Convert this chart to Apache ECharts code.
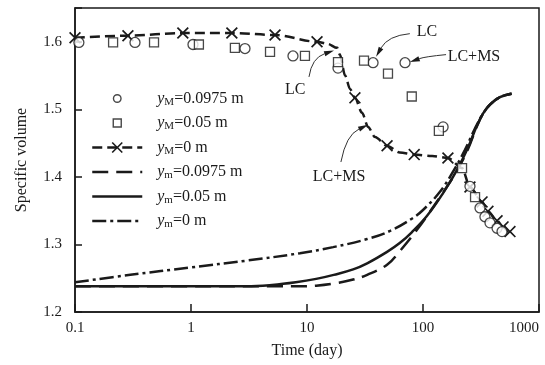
<!DOCTYPE html>
<html><head><meta charset="utf-8">
<script src="https://cdn.jsdelivr.net/npm/echarts@6/dist/echarts.min.js"></script>
<style>html,body{margin:0;padding:0;background:#fff}#c{width:545px;height:365px}</style>
</head><body><div id="c"></div>
<script>
// ---------- data ----------
const xTicks = [0.1, 1, 10, 100, 1000];
const yTicks = [1.2, 1.3, 1.4, 1.5, 1.6];
const seriesNames = ['yM=0.0975 m', 'yM=0.05 m', 'yM=0 m', 'ym=0.0975 m', 'ym=0.05 m', 'ym=0 m'];

// y_M = 0.0975 m (circles)
const circT = [0.108, 0.329, 1.04, 2.92, 7.57, 18.5, 37.1, 70, 149, 254, 310, 342, 378, 435, 480];
const circV = [1.599, 1.599, 1.596, 1.590, 1.579, 1.561, 1.569, 1.569, 1.474, 1.386, 1.354, 1.341, 1.332, 1.324, 1.319];
// y_M = 0.05 m (squares)
const sqT = [0.213, 0.48, 1.17, 2.39, 4.8, 9.6, 18.5, 31, 49.9, 80, 137, 217, 281];
const sqV = [1.599, 1.599, 1.596, 1.591, 1.585, 1.579, 1.570, 1.572, 1.553, 1.519, 1.468, 1.413, 1.370];
// y_M = 0 m (dashed curve with crosses)
const dashT = [0.1, 0.286, 0.85, 2.25, 5.3, 12.2, 15, 18.2, 19.2, 21.3, 23.5, 25.9, 29.8, 33.6, 38.6, 49, 63, 84, 120, 164, 217, 254, 323, 363, 435, 490, 562];
const dashV = [1.606, 1.609, 1.613, 1.613, 1.610, 1.600, 1.597, 1.591, 1.581, 1.550, 1.530, 1.517, 1.495, 1.474, 1.459, 1.446, 1.436, 1.433, 1.431, 1.428, 1.413, 1.385, 1.363, 1.349, 1.335, 1.326, 1.319];
const crossT = [0.1, 0.286, 0.85, 2.25, 5.3, 12.2, 25.9, 49, 84, 164, 254, 323, 363, 435, 490, 562];
// y_m = 0.0975 m (long dashes)
const longT = [0.1, 1, 5, 8, 12, 17, 25, 33, 49, 63, 89, 122, 160, 196, 244, 290, 330, 378, 460, 580];
const longV = [1.238, 1.238, 1.238, 1.238, 1.239, 1.242, 1.248, 1.255, 1.270, 1.290, 1.322, 1.355, 1.385, 1.409, 1.441, 1.474, 1.494, 1.507, 1.518, 1.523];
// y_m = 0.05 m (solid)
const solidT = [0.1, 1, 3, 5, 8, 12, 17, 25, 33, 49, 63, 80, 108, 149, 196, 244, 290, 330, 378, 460, 580];
const solidV = [1.238, 1.238, 1.238, 1.240, 1.244, 1.249, 1.255, 1.263, 1.272, 1.289, 1.302, 1.318, 1.342, 1.376, 1.410, 1.443, 1.475, 1.494, 1.507, 1.518, 1.523];
// y_m = 0 m (dash-dot)
const dotT = [0.1, 0.3, 1, 3, 8.7, 16.8, 33, 52, 80, 100, 140, 182, 230, 281, 330, 378, 460, 580];
const dotV = [1.244, 1.255, 1.266, 1.276, 1.287, 1.296, 1.308, 1.320, 1.338, 1.351, 1.378, 1.408, 1.440, 1.472, 1.494, 1.507, 1.518, 1.523];

// annotations (data coordinates)
const annLabels = ['LC', 'LC+MS', 'LC', 'LC+MS'];
const annTextAt = [[108, 1.615], [275, 1.578], [7.9, 1.529], [18.9, 1.400]];
const annFrom   = [[77, 1.612], [158, 1.581], [10.4, 1.548], [19.6, 1.422]];
const annCtrl   = [[49.9, 1.609], [104, 1.578], [11.0, 1.576], [21.7, 1.462]];
const annTip    = [[39.4, 1.578], [77, 1.570], [17.1, 1.587], [33.6, 1.477]];

// ---------- chart ----------
const zip = (a, b) => a.map((t, i) => [t, b[i]]);
const FONT = 'Liberation Serif';
const INK = '#1a1a1a';
const xPath = 'path://M0,1L1,0L5,4L9,0L10,1L6,5L10,9L9,10L5,6L1,10L0,9L4,5Z';
const legCircle = 'path://M0,0M20,20M10,4.6A5.4,5.4,0,1,1,9.99,4.6Z';
const legSquare = 'path://M0,0M20,20M4.3,4.3L15.7,4.3L15.7,15.7L4.3,15.7Z';
const noMark = {color: 'rgba(0,0,0,0)', borderWidth: 0, opacity: 0};

const chart = echarts.init(document.getElementById('c'), null, {renderer: 'canvas'});

const dashData = dashT.map((t, i) => ({
  value: [t, dashV[i]],
  symbol: crossT.includes(t) ? xPath : 'none'
}));

function legendFmt(name) {
  const sub = name.charAt(1);
  const rest = name.slice(2);
  return '{i|y}{s|' + sub + '}{t|' + rest + '}';
}

const option = {
  animation: false,
  backgroundColor: '#fff',
  grid: {left: 75, right: 6, top: 8, bottom: 53, show: true, borderColor: INK, borderWidth: 1.5, backgroundColor: 'transparent'},
  xAxis: {
    type: 'log', logBase: 10, min: 0.1, max: 1000,
    name: 'Time (day)', nameLocation: 'middle', nameGap: 31,
    nameTextStyle: {fontFamily: FONT, fontSize: 16, color: INK},
    axisLine: {show: true, lineStyle: {color: INK, width: 1.5}},
    axisTick: {show: true, inside: true, length: 8, lineStyle: {color: INK, width: 1.5}},
    minorTick: {show: false}, splitLine: {show: false}, minorSplitLine: {show: false},
    axisLabel: {
      fontFamily: FONT, fontSize: 15, color: INK, margin: 9, alignMaxLabel: 'right',
      formatter: v => { const r = +(+v).toPrecision(6); return xTicks.includes(r) ? String(r) : ''; }
    }
  },
  yAxis: {
    type: 'value', min: 1.2, max: 1.65, interval: 0.1,
    name: 'Specific volume', nameLocation: 'middle', nameGap: 45, nameRotate: 90,
    nameTextStyle: {fontFamily: FONT, fontSize: 16, color: INK},
    axisLine: {show: true, lineStyle: {color: INK, width: 1.5}},
    axisTick: {show: true, inside: true, length: 7, lineStyle: {color: INK, width: 1.5}},
    splitLine: {show: false},
    axisLabel: {
      fontFamily: FONT, fontSize: 15, color: INK, margin: 13,
      formatter: v => { const r = Math.round(v * 100) / 100; return yTicks.includes(r) ? r.toFixed(1) : ''; }
    }
  },
  legend: {
    orient: 'vertical', left: 86, top: 85.5, itemWidth: 50, itemHeight: 14, itemGap: 7.5,
    selectedMode: false,
    formatter: legendFmt,
    lineStyle: {width: 2.5},
    textStyle: {
      fontFamily: FONT, fontSize: 16, color: INK, padding: [0, 0, 0, 10],
      rich: {
        i: {fontFamily: FONT, fontStyle: 'italic', fontSize: 16, color: INK, lineHeight: 18},
        s: {fontFamily: FONT, fontSize: 11, color: INK, padding: [7, 0, 0, 0]},
        t: {fontFamily: FONT, fontSize: 16, color: INK, lineHeight: 18}
      }
    },
    data: [
      {name: seriesNames[0], icon: legCircle, itemStyle: {color: '#fff', borderColor: INK, borderWidth: 1.4}},
      {name: seriesNames[1], icon: legSquare, itemStyle: {color: '#fff', borderColor: INK, borderWidth: 1.4}},
      {name: seriesNames[2], itemStyle: {color: INK, borderWidth: 0}},
      {name: seriesNames[3], itemStyle: noMark},
      {name: seriesNames[4], itemStyle: noMark},
      {name: seriesNames[5], itemStyle: noMark}
    ]
  },
  series: [
    {
      name: seriesNames[0], type: 'scatter', data: zip(circT, circV), z: 6,
      symbol: 'circle', symbolSize: 10,
      itemStyle: {color: '#fff', borderColor: INK, borderWidth: 1.3}
    },
    {
      name: seriesNames[1], type: 'scatter', data: zip(sqT, sqV), z: 6,
      symbol: 'rect', symbolSize: 9,
      itemStyle: {color: '#fff', borderColor: INK, borderWidth: 1.3}
    },
    {
      name: seriesNames[2], type: 'line', data: dashData, z: 5,
      symbol: xPath, symbolSize: 12, showSymbol: true,
      smooth: 0.3, smoothMonotone: 'x',
      itemStyle: {color: INK, borderWidth: 0},
      lineStyle: {color: INK, width: 2.5, type: [10, 5]}
    },
    {
      name: seriesNames[3], type: 'line', data: zip(longT, longV), z: 3,
      symbol: 'none', smooth: 0.4,
      itemStyle: {color: INK},
      lineStyle: {color: INK, width: 2.5, type: [16, 8]}
    },
    {
      name: seriesNames[4], type: 'line', data: zip(solidT, solidV), z: 4,
      symbol: 'none', smooth: 0.4,
      itemStyle: {color: INK},
      lineStyle: {color: INK, width: 2.5, type: 'solid'}
    },
    {
      name: seriesNames[5], type: 'line', data: zip(dotT, dotV), z: 3,
      symbol: 'none', smooth: 0.4,
      itemStyle: {color: INK},
      lineStyle: {color: INK, width: 2.5, type: [14, 4, 3, 4]}
    }
  ]
};
chart.setOption(option);

// annotations: curved arrows + labels, positioned from data coordinates
const P = p => chart.convertToPixel({gridIndex: 0}, p);
const graphics = [];
annLabels.forEach((lab, k) => {
  const tp = P(annTextAt[k]);
  const a = P(annFrom[k]);
  const c = P(annCtrl[k]);
  const tip = P(annTip[k]);
  let dx = tip[0] - c[0], dy = tip[1] - c[1];
  const L = Math.hypot(dx, dy) || 1; dx /= L; dy /= L;
  const hl = 10, hw = 2.6;
  const base = [tip[0] - dx * hl, tip[1] - dy * hl];
  graphics.push({
    type: 'bezierCurve', silent: true, z: 10,
    shape: {x1: a[0], y1: a[1], cpx1: c[0], cpy1: c[1], x2: base[0], y2: base[1]},
    style: {stroke: '#333', lineWidth: 1, fill: null}
  });
  graphics.push({
    type: 'polygon', silent: true, z: 10,
    shape: {points: [tip, [base[0] - dy * hw, base[1] + dx * hw], [base[0] + dy * hw, base[1] - dx * hw]]},
    style: {fill: INK}
  });
  graphics.push({
    type: 'text', silent: true, z: 10,
    style: {text: lab, x: tp[0], y: tp[1], align: 'center', verticalAlign: 'middle',
            font: '16px "Liberation Serif"', fill: INK}
  });
});
chart.setOption({graphic: graphics});
</script>
</body></html>
